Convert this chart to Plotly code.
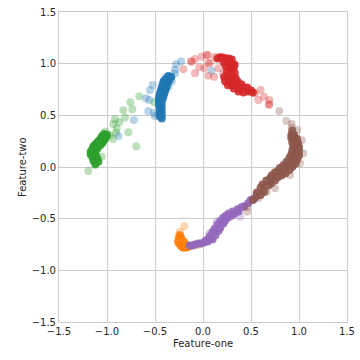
import plotly.graph_objects as go

# dense part of each cluster
green_x = [-1.12, -1.09, -1.14, -1.10, -1.15, -1.11, -1.17, -1.13, -1.17, -1.12, -1.15, -1.10, -1.14, -1.09, -1.12, -1.07, -1.10, -1.05, -1.08, -1.04, -1.06, -1.02, -1.05, -1.01, -1.03, -1.00]
green_y = [0.03, 0.05, 0.06, 0.08, 0.09, 0.10, 0.12, 0.13, 0.15, 0.15, 0.18, 0.18, 0.20, 0.20, 0.22, 0.21, 0.24, 0.23, 0.26, 0.25, 0.28, 0.27, 0.30, 0.29, 0.32, 0.31]
blue_x = [-0.43, -0.45, -0.43, -0.45, -0.43, -0.45, -0.43, -0.46, -0.43, -0.46, -0.42, -0.46, -0.41, -0.45, -0.40, -0.44, -0.39, -0.43, -0.38, -0.42, -0.37, -0.41, -0.35, -0.39, -0.36, -0.33]
blue_y = [0.47, 0.49, 0.50, 0.52, 0.54, 0.56, 0.58, 0.60, 0.62, 0.64, 0.66, 0.67, 0.69, 0.71, 0.72, 0.74, 0.75, 0.77, 0.78, 0.80, 0.81, 0.83, 0.84, 0.85, 0.88, 0.87]
red_x = [0.15, 0.18, 0.21, 0.24, 0.27, 0.30, 0.22, 0.26, 0.30, 0.33, 0.24, 0.28, 0.32, 0.25, 0.29, 0.33, 0.22, 0.26, 0.30, 0.34, 0.23, 0.27, 0.31, 0.36, 0.26, 0.30, 0.35, 0.40, 0.32, 0.37, 0.42, 0.46, 0.37, 0.42, 0.47, 0.50, 0.52]
red_y = [1.05, 1.06, 1.06, 1.05, 1.05, 1.04, 1.01, 1.01, 1.00, 0.99, 0.97, 0.96, 0.96, 0.92, 0.92, 0.91, 0.87, 0.87, 0.87, 0.86, 0.83, 0.83, 0.83, 0.83, 0.79, 0.79, 0.80, 0.80, 0.76, 0.76, 0.77, 0.77, 0.73, 0.72, 0.73, 0.74, 0.72]
brown_x = [0.52, 0.56, 0.60, 0.56, 0.64, 0.60, 0.62, 0.68, 0.71, 0.66, 0.70, 0.75, 0.72, 0.78, 0.75, 0.82, 0.78, 0.86, 0.80, 0.84, 0.90, 0.84, 0.88, 0.93, 0.87, 0.92, 0.96, 0.90, 0.95, 0.98, 0.92, 0.96, 1.00, 0.93, 0.97, 1.00, 0.94, 0.98, 1.00, 0.93, 0.97, 0.99, 0.92, 0.96, 0.98, 0.92, 0.95, 0.93]
brown_y = [-0.32, -0.28, -0.27, -0.25, -0.24, -0.20, -0.17, -0.18, -0.16, -0.13, -0.11, -0.13, -0.08, -0.10, -0.05, -0.08, -0.04, -0.06, -0.01, -0.02, -0.03, 0.02, 0.01, 0.00, 0.05, 0.05, 0.03, 0.09, 0.08, 0.07, 0.12, 0.12, 0.11, 0.16, 0.16, 0.15, 0.20, 0.20, 0.19, 0.24, 0.24, 0.23, 0.28, 0.28, 0.27, 0.31, 0.31, 0.35]
purple_x = [-0.14, -0.11, -0.08, -0.05, -0.02, 0.01, 0.03, 0.05, 0.08, 0.10, 0.07, 0.13, 0.10, 0.16, 0.12, 0.18, 0.15, 0.21, 0.18, 0.23, 0.21, 0.26, 0.24, 0.30, 0.27, 0.33, 0.31, 0.37, 0.36, 0.40, 0.43, 0.47, 0.50, 0.54]
purple_y = [-0.76, -0.76, -0.75, -0.74, -0.74, -0.73, -0.71, -0.72, -0.70, -0.70, -0.67, -0.66, -0.63, -0.62, -0.60, -0.59, -0.56, -0.55, -0.52, -0.52, -0.49, -0.49, -0.47, -0.47, -0.45, -0.45, -0.43, -0.43, -0.41, -0.39, -0.38, -0.35, -0.32, -0.30]
orange_x = [-0.25, -0.24, -0.26, -0.25, -0.23, -0.22, -0.21, -0.19, -0.17, -0.15, -0.23, -0.20, -0.18, -0.24]
orange_y = [-0.69, -0.71, -0.72, -0.74, -0.76, -0.77, -0.78, -0.78, -0.78, -0.77, -0.68, -0.72, -0.75, -0.66]

# loose points around the clusters
green_sx = [-1.195, -1.125, -1.055, -0.695, -0.778, -0.94, -0.969, -1.02, -0.899, -0.906, -0.934, -0.872, -0.917, -0.8125, -0.83, -0.736, -0.757, -0.663, -0.507, -0.375]
green_sy = [-0.039, 0.02, 0.10, 0.20, 0.336, 0.27, 0.31, 0.342, 0.374, 0.332, 0.416, 0.432, 0.461, 0.48, 0.549, 0.558, 0.626, 0.684, 0.626, 0.781]
blue_sx = [-0.229, -0.281, -0.292, -0.326, -0.385, -0.524, -0.552, -0.594, -0.56, -0.57, -0.51, -0.50, -0.72, -0.88, -0.36, -0.29, 0.09]
blue_sy = [1.02, 0.994, 0.94, 0.826, 0.87, 0.794, 0.745, 0.665, 0.648, 0.542, 0.526, 0.494, 0.455, 0.30, 0.777, 0.907, 0.932]
red_sx = [-0.125, -0.083, -0.014, 0.049, -0.205, -0.083, -0.039, 0.014, 0.055, 0.055, 0.115, 0.073, 0.038, -0.118, 0.125, 0.177, 0.21, 0.16, 0.21, 0.576, 0.635, 0.69, 0.688, 0.60, 0.54, 0.688]
red_sy = [1.02, 1.045, 1.068, 1.084, 0.946, 0.907, 0.965, 0.955, 1.01, 0.884, 0.874, 1.004, 1.084, 1.02, 1.068, 1.068, 1.02, 0.955, 0.907, 0.649, 0.68, 0.649, 0.60, 0.745, 0.713, 0.61]
brown_sx = [0.795, 0.868, 0.924, 0.924, 0.982, 1.03, 1.045, 1.01, 0.906, 0.708, 0.663, 0.46, 0.46, 0.576, 0.75]
brown_sy = [0.542, 0.445, 0.416, 0.38, 0.358, 0.26, 0.133, 0.036, -0.077, -0.084, -0.239, -0.433, -0.39, -0.303, -0.206]
purple_sx = [0.566, 0.49, 0.385, 0.143, 0.066, 0.299]
purple_sy = [-0.239, -0.319, -0.481, -0.53, -0.642, -0.471]
orange_sx = [-0.195, -0.24, -0.257, -0.052, -0.10]
orange_sy = [-0.574, -0.626, -0.658, -0.755, -0.76]

clusters = [
    ("#ff7f0e", orange_x, orange_y, orange_sx, orange_sy),
    ("#2ca02c", green_x, green_y, green_sx, green_sy),
    ("#1f77b4", blue_x, blue_y, blue_sx, blue_sy),
    ("#d62728", red_x, red_y, red_sx, red_sy),
    ("#9467bd", purple_x, purple_y, purple_sx, purple_sy),
    ("#8c564b", brown_x, brown_y, brown_sx, brown_sy),
]

fig = go.Figure()
for color, x, y, sx, sy in clusters:
    fig.add_trace(go.Scatter(x=sx, y=sy, mode="markers", marker=dict(color=color, size=8, opacity=0.32)))
    fig.add_trace(go.Scatter(x=x, y=y, mode="markers", marker=dict(color=color, size=8, opacity=0.9)))

axis = dict(
    range=[-1.5, 1.5],
    dtick=0.5,
    tickformat=".1f",
    automargin=False,
    showgrid=True,
    gridcolor="#cccccc",
    gridwidth=1,
    zeroline=False,
    showline=True,
    linecolor="#cccccc",
    linewidth=1,
    mirror=True,
    ticks="",
    tickfont=dict(size=10, color="#262626"),
)

fig.update_layout(
    width=360,
    height=360,
    margin=dict(l=59, r=13, t=12, b=38, autoexpand=False),
    showlegend=False,
    paper_bgcolor="white",
    plot_bgcolor="white",
    font=dict(family="DejaVu Sans", color="#262626"),
    xaxis=axis,
    yaxis=axis,
    annotations=[
        dict(text="Feature-one", xref="paper", yref="paper", x=0.5, y=0, yshift=-21,
             xanchor="center", yanchor="middle", showarrow=False,
             font=dict(size=10, color="#262626")),
        dict(text="Feature-two", xref="paper", yref="paper", x=0, y=0.5, xshift=-37,
             xanchor="center", yanchor="middle", textangle=-90, showarrow=False,
             font=dict(size=10, color="#262626")),
    ],
)

# body margin off so the 360 figure fills the window
fig.write_html(
    "out.html",
    post_script="document.body.style.margin='0';",
    config={"displayModeBar": False},
)
